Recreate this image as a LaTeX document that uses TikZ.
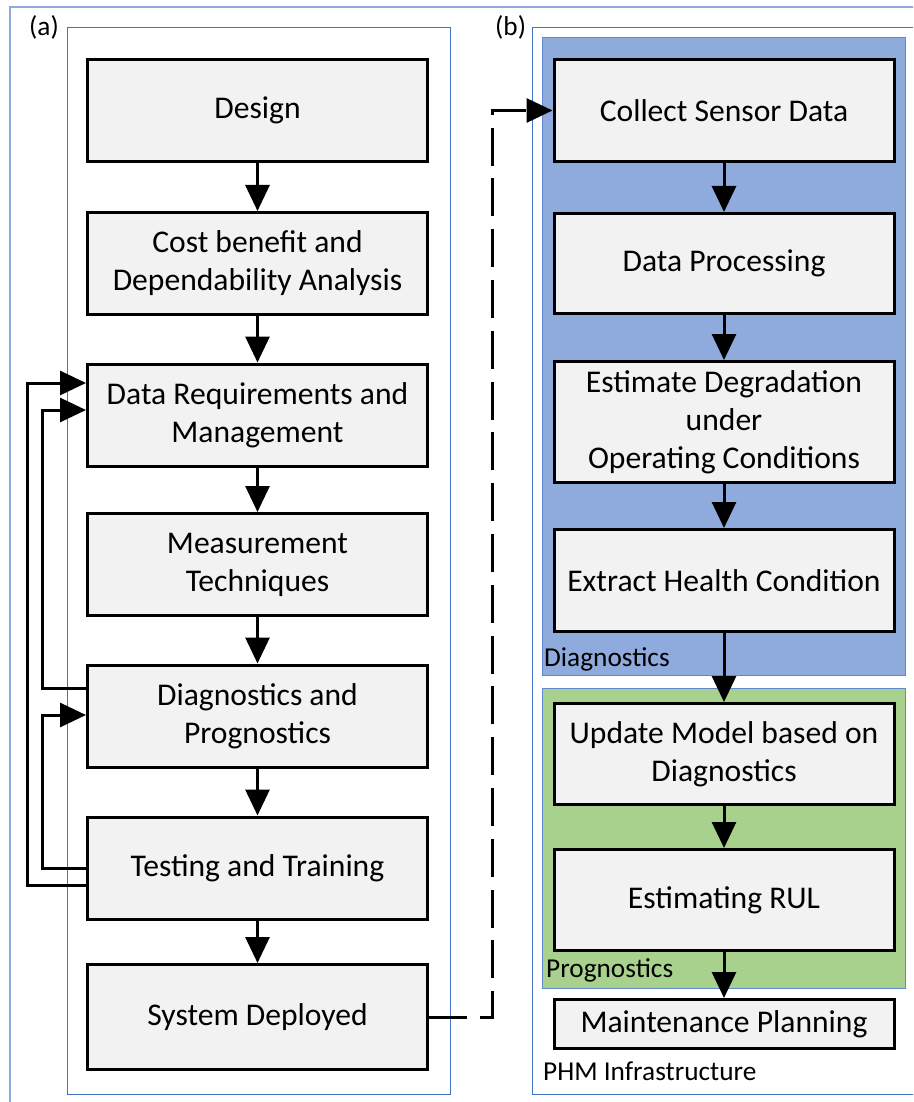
\documentclass[tikz,border=0pt]{standalone}
\usepackage{fontspec}
\setmainfont{Carlito}
\usepackage{tikz}
\usetikzlibrary{arrows.meta}
\definecolor{boxgray}{HTML}{F2F2F2}
\definecolor{diagblue}{HTML}{8FAADC}
\definecolor{proggreen}{HTML}{A9D18E}
\definecolor{edgeblue}{HTML}{4472C4}

\begin{document}
\begin{tikzpicture}[x=1pt, y=-1pt,
    box/.style={draw, line width=3pt, fill=boxgray, minimum width=340pt, minimum height=102pt, align=center, inner sep=0pt, font=\fontsize{31.6}{38}\selectfont},
    arr/.style={line width=3pt, -{Triangle[length=26pt, width=24pt]}},
    tag/.style={inner sep=0pt, anchor=base west, font=\fontsize{27.3}{32}\selectfont}]
    \path[use as bounding box, clip] (0,0) rectangle (913,1102);

    % Draw the frames of the two panels
    \draw[diagblue, line width=2pt] (10,1110) -- (10,7) -- (920,7);
    \draw[edgeblue, line width=1pt] (67,28) rectangle (450,1094);
    \draw[edgeblue, line width=1pt] (920,28) -- (532,28) -- (532,1094) -- (920,1094);

    % Draw the diagnostics and prognostics areas
    \draw[edgeblue!60!diagblue, fill=diagblue, line width=1pt] (542,38) rectangle (905,675);
    \draw[edgeblue!60!diagblue, fill=proggreen, line width=1pt] (542,688) rectangle (905,988);

    % Left column (a)
    \node[box] (design) at (257.5,110.5) {Design};
    \node[box] (cost) at (257.5,263.5) {Cost benefit and\\Dependability Analysis};
    \node[box] (datareq) at (257.5,415) {Data Requirements and\\Management};
    \node[box] (measure) at (257.5,564.5) {Measurement\\Techniques};
    \node[box] (diagprog) at (257.5,716) {Diagnostics and\\Prognostics};
    \node[box] (testing) at (257.5,868) {Testing and Training};
    \node[box, minimum height=105pt] (deployed) at (257.5,1017) {System Deployed};

    % Right column (b)
    \node[box] (collect) at (724,110.5) {Collect Sensor Data};
    \node[box, minimum height=100pt] (process) at (724,263.5) {Data Processing};
    \node[box, minimum height=121pt] (degrade) at (724,422) {Estimate Degradation\\under\\Operating Conditions};
    \node[box] (health) at (724,580.5) {Extract Health Condition};
    \node[box, minimum height=101pt] (update) at (724,754) {Update Model based on\\Diagnostics};
    \node[box, minimum height=101pt] (rul) at (724,900) {Estimating RUL};
    \node[box, minimum height=49pt] (maint) at (724,1024) {Maintenance Planning};

    % Draw the arrows down each column
    \foreach \a/\b in {design/cost, cost/datareq, datareq/measure, measure/diagprog, diagprog/testing, testing/deployed, collect/process, process/degrade, degrade/health, health/update, update/rul, rul/maint}
        \draw[arr] (\a) -- (\b);

    % Draw the feedback loops
    \draw[arr] ([yshift=28pt]diagprog.west) -- ++(-44,0) |- ([yshift=5pt]datareq.west);
    \draw[arr] (testing.west) -- ++(-44,0) |- ([yshift=1pt]diagprog.west);
    \draw[arr] ([yshift=-17pt]testing.west) -- ++(-59,0) |- ([yshift=32pt]datareq.west);

    % Dashed link from (a) to (b)
    \draw[arr, dash pattern=on 38pt off 12.8pt] (deployed.east) -- ++(63,0) |- (collect.west);

    % Labels
    \node[tag] (atag) at (29,36) {(a)};
    \node[tag] (btag) at (495,36) {(b)};
    \node[tag] (diagtag) at (544,666) {Diagnostics};
    \node[tag] (progtag) at (546,977) {Prognostics};
    \node[tag] (phmtag) at (543,1080) {PHM Infrastructure};
\end{tikzpicture}
\end{document}
